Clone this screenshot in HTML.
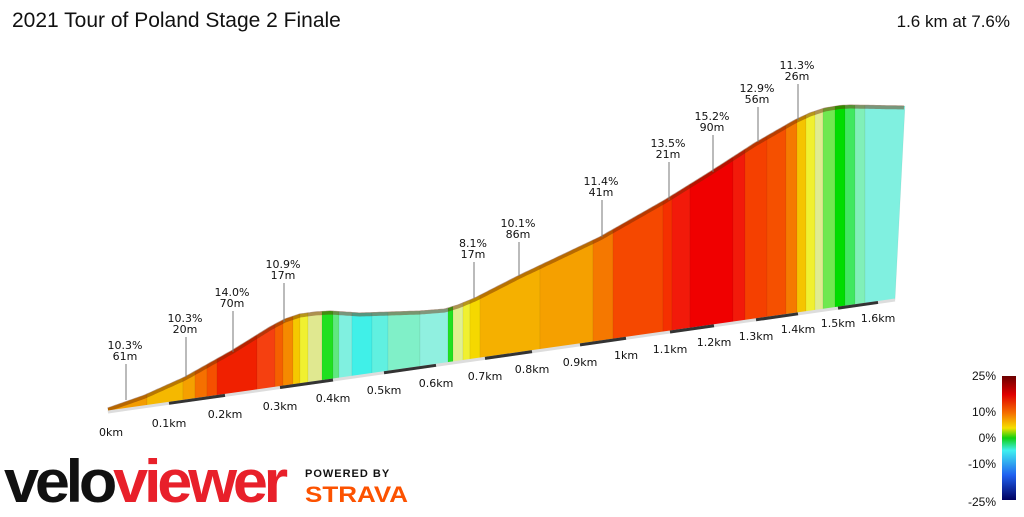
<!DOCTYPE html><html><head><style>
body{margin:0;width:1024px;height:512px;background:#fff;overflow:hidden;font-family:"Liberation Sans",sans-serif}
</style></head><body>
<svg id="s" width="1024" height="512" xmlns="http://www.w3.org/2000/svg" font-family="Liberation Sans, sans-serif">
<defs><linearGradient id="lg" x1="0" y1="0" x2="0" y2="1">
<stop offset="0" stop-color="#6a0000"/><stop offset="0.15" stop-color="#e00000"/><stop offset="0.3" stop-color="#f57000"/><stop offset="0.42" stop-color="#f5e000"/><stop offset="0.5" stop-color="#10d010"/><stop offset="0.6" stop-color="#40f0f0"/><stop offset="0.8" stop-color="#2060f0"/><stop offset="1" stop-color="#000060"/></linearGradient></defs>
<text x="12" y="27" font-size="21" fill="#111">2021 Tour of Poland Stage 2 Finale</text>
<text x="1010" y="27" font-size="17" fill="#111" text-anchor="end">1.6 km at 7.6%</text>
<g id="g" font-family="DejaVu Sans, sans-serif"></g>
<rect x="1002" y="376" width="14" height="124" fill="url(#lg)"/>
<g font-size="12" fill="#111" text-anchor="end">
<text x="996" y="380">25%</text><text x="996" y="416">10%</text><text x="996" y="442">0%</text><text x="996" y="468">-10%</text><text x="996" y="506">-25%</text></g>
<text x="4" y="502" font-size="60" font-weight="bold" letter-spacing="-4" fill="#111" textLength="280" lengthAdjust="spacingAndGlyphs">velo<tspan fill="#e8202a">viewer</tspan></text>
<text x="305" y="477" font-size="11" font-weight="bold" fill="#111" letter-spacing="1">POWERED BY</text>
<text x="305" y="502" font-size="22" font-weight="bold" fill="#fc5200" textLength="103" lengthAdjust="spacingAndGlyphs">STRAVA</text>
</svg>
<script>
var prof=[[108,408],[145,395],[185,377],[233,350],[270,327],[285,319],[300,314],[315,312],[330,311],[360,313],[420,311],[445,309],[458,305],[475,298],[520,275],[600,237],[665,200],[710,172],[755,143],[795,120],[810,113],[825,108],[840,105.5],[850,105],[905,106]];
function ty(x){for(var i=0;i<prof.length-1;i++){var a=prof[i],b=prof[i+1];if(x<=b[0])return a[1]+(b[1]-a[1])*(x-a[0])/(b[0]-a[0]);}return 106;}
function by(x){return 412-(x-108)*0.1423;}
var st=[[108,"#f39c00"],[147,"#f5b800"],[183,"#f5a000"],[195,"#f57000"],[207,"#f55000"],[217,"#f02000"],[257,"#f54010"],[275,"#f56000"],[283,"#f58a00"],[293,"#f5c800"],[300,"#f0f030"],[308,"#e0e890"],[322,"#20e020"],[333,"#60e880"],[339,"#80f0e0"],[352,"#40f0e8"],[372,"#60f0e0"],[388,"#80f0c8"],[420,"#90f0e0"],[448,"#20e020"],[453,"#e0f090"],[463,"#f0f030"],[470,"#f5d800"],[480,"#f5b000"],[540,"#f5a000"],[593,"#f57800"],[613,"#f54800"],[663,"#f53000"],[672,"#f21a0a"],[690,"#f00000"],[733,"#f21a0a"],[745,"#f54000"],[767,"#f55000"],[786,"#f57a00"],[797,"#f5c400"],[806,"#f0f030"],[815,"#e0ec90"],[823,"#70e850"],[835,"#00dd00"],[845,"#40e860"],[855,"#80f0b8"],[865,"#80f0e0"],[905,""]];
var h="";
for(var i=0;i<st.length-1;i++){var x0=st[i][0],x1=st[i+1][0];var p=[];for(var x=x0;x<=x1;x+=2)p.push(x+","+ty(x).toFixed(1));p.push(x1+","+ty(x1).toFixed(1));var bx1=Math.min(x1,895),bx0=Math.min(x0,895);p.push(bx1+","+by(bx1).toFixed(1));p.push(bx0+","+by(bx0).toFixed(1));h+='<polygon points="'+p.join(" ")+'" fill="'+st[i][1]+'" stroke="rgba(0,0,0,0.08)" stroke-width="0.6"/>';}
var tp=[];for(var x=108;x<=905;x+=2)tp.push(x+","+(ty(x)+1.5).toFixed(1));
h+='<polyline points="'+tp.join(" ")+'" fill="none" stroke="rgba(110,40,0,0.45)" stroke-width="4"/>';
h+='<line x1="108" y1="412" x2="895" y2="300" stroke="#ddd" stroke-width="3"/>';
var L=[[0,111,436],[0.1,169,427],[0.2,225,418],[0.3,280,410],[0.4,333,402],[0.5,384,394],[0.6,436,387],[0.7,485,380],[0.8,532,373],[0.9,580,366],[1,626,359],[1.1,670,353],[1.2,714,346],[1.3,756,340],[1.4,798,333],[1.5,838,327],[1.6,878,322]];
for(var i=1;i<L.length-1;i+=2){var a=L[i][1],b=L[i+1][1];h+='<line x1="'+a+'" y1="'+by(a)+'" x2="'+b+'" y2="'+by(b)+'" stroke="#333" stroke-width="3"/>';}
for(var i=0;i<L.length;i++){var t=L[i][0]==1?"1km":(L[i][0]==0?"0km":L[i][0].toFixed(1)+"km");h+='<text x="'+L[i][1]+'" y="'+L[i][2]+'" font-size="11" fill="#111" text-anchor="middle">'+t+'</text>';}
var A=[["10.3%","61m",125,349,400],["10.3%","20m",185,322,377],["14.0%","70m",232,296,352],["10.9%","17m",283,268,322],["8.1%","17m",473,247,298],["10.1%","86m",518,227,276],["11.4%","41m",601,185,237],["13.5%","21m",668,147,200],["15.2%","90m",712,120,172],["12.9%","56m",757,92,142],["11.3%","26m",797,69,120]];
A.forEach(function(a){h+='<text x="'+a[2]+'" y="'+a[3]+'" font-size="11" fill="#111" text-anchor="middle">'+a[0]+'</text><text x="'+a[2]+'" y="'+(a[3]+11)+'" font-size="11" fill="#111" text-anchor="middle">'+a[1]+'</text><line x1="'+(a[2]+1)+'" y1="'+(a[3]+15)+'" x2="'+(a[2]+1)+'" y2="'+a[4]+'" stroke="#777" stroke-width="1"/>';});
document.getElementById("g").innerHTML=h;
</script>
</body></html>
